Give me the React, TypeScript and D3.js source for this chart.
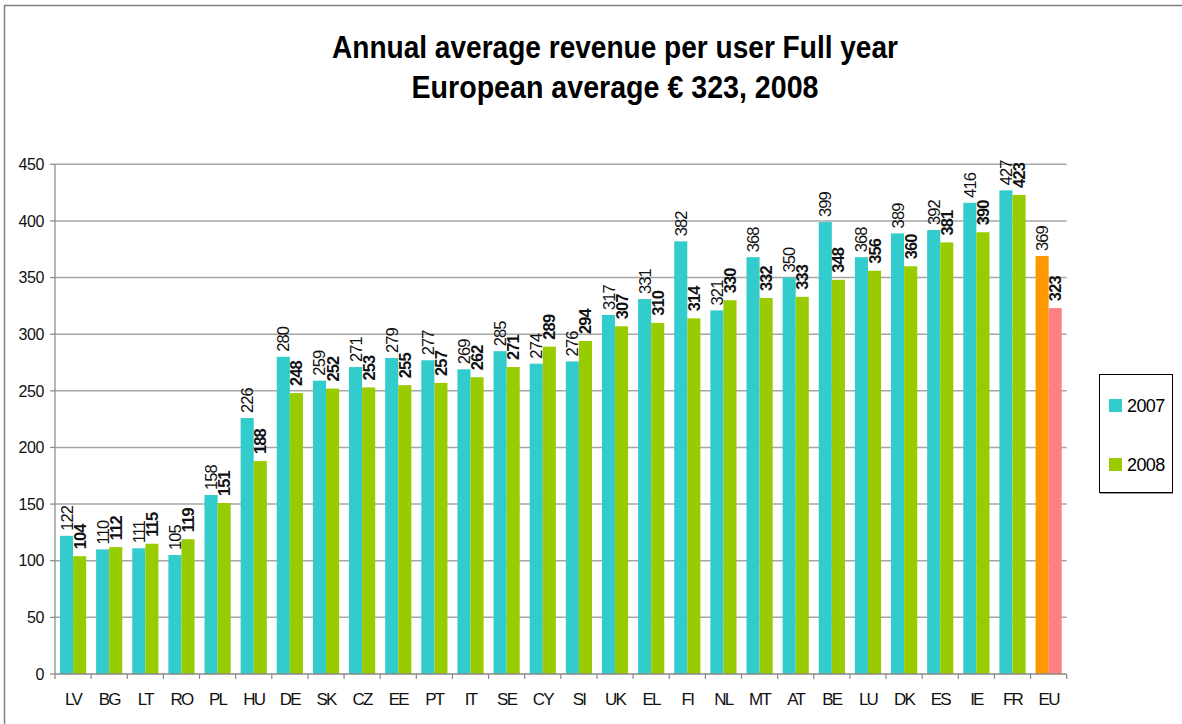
import React from "react";
import * as d3 from "d3";

const categories = ["LV","BG","LT","RO","PL","HU","DE","SK","CZ","EE","PT","IT","SE","CY","SI","UK","EL","FI","NL","MT","AT","BE","LU","DK","ES","IE","FR","EU"];
const values2007 = [122,110,111,105,158,226,280,259,271,279,277,269,285,274,276,317,331,382,321,368,350,399,368,389,392,416,427,369];
const values2008 = [104,112,115,119,151,188,248,252,253,255,257,262,271,289,294,307,310,314,330,332,333,348,356,360,381,390,423,323];
const seriesNames = ["2007", "2008"];
const yTicks = [0,50,100,150,200,250,300,350,400,450];
const titleLines = ["Annual average revenue per user Full year", "European average  \u20ac 323, 2008"];

const W = 1182, H = 724;
const left = 55, right = 1066.7, top = 164.3, bottom = 674;
const C2007 = "#33CCCC", C2008 = "#99CC00", CEU7 = "#FF9900", CEU8 = "#FF8080";
const FONT = "'Liberation Sans', Arial, sans-serif";

export default function App() {
  const x = d3.scaleBand<string>().domain(categories).range([left, right]).padding(0);
  const inner = d3.scaleBand<string>().domain(seriesNames).range([0, x.bandwidth()]).paddingInner(0).paddingOuter(0.38);
  const y = d3.scaleLinear().domain([0, 450]).range([bottom, top]);
  const bw = inner.bandwidth();

  const series = [values2007, values2008];
  return (
    <svg width={W} height={H} style={{ position: "absolute", left: 0, top: 0, background: "#fff" }} fontFamily={FONT}>
      <rect x={4.5} y={5.5} width={1300} height={900} fill="#fff" stroke="#808080" strokeWidth={1.5} />
      {titleLines.map((t, i) => (
        <text key={i} x={615} y={i === 0 ? 57.5 : 98} textAnchor="middle" fontSize={31} fontWeight="bold"
          textLength={i === 0 ? 566 : 407} lengthAdjust="spacingAndGlyphs" fill="#000">{t}</text>
      ))}
      {/* gridlines */}
      {yTicks.map((t) => (
        <g key={t}>
          {t > 0 && <line x1={left} x2={right} y1={y(t)} y2={y(t)} stroke="#a6a6a6" strokeWidth={1.5} />}
          <line x1={left - 5} x2={left} y1={y(t)} y2={y(t)} stroke="#888" strokeWidth={1.2} />
          <text x={left - 11} y={y(t)} dy="0.36em" textAnchor="end" fontSize={16} letterSpacing={-0.4} fill="#111">{t}</text>
        </g>
      ))}
      {/* bars */}
      {categories.map((c, i) => (
        <g key={c}>
          {series.map((vals, s) => {
            const isEU = c === "EU";
            const color = s === 0 ? (isEU ? CEU7 : C2007) : (isEU ? CEU8 : C2008);
            const bx = (x(c) as number) + (inner(seriesNames[s]) as number);
            const by = y(vals[i]);
            return <rect key={s} x={bx} y={by} width={bw} height={bottom - by} fill={color} />;
          })}
        </g>
      ))}
      {/* labels */}
      {categories.map((c, i) => (
        <g key={c + "l"}>
          {series.map((vals, s) => {
            const cx = (x(c) as number) + (inner(seriesNames[s]) as number) + bw / 2;
            const ty = y(vals[i]) - (s === 1 ? 7 : 5);
            return (
              <text key={s} transform={`translate(${cx + 6},${ty}) rotate(-90)`} fontSize={16.5}
                fontWeight={s === 1 ? "bold" : "normal"} letterSpacing={-0.9} fill="#111">{vals[i]}</text>
            );
          })}
        </g>
      ))}
      {/* axes */}
      <line x1={left} x2={left} y1={top} y2={bottom} stroke="#888" strokeWidth={1.2} />
      <line x1={left} x2={right} y1={bottom} y2={bottom} stroke="#888" strokeWidth={1.5} />
      {[...categories.map((c) => x(c) as number), right].map((px, i) => (
        <line key={i} x1={px} x2={px} y1={bottom} y2={bottom + 5} stroke="#888" strokeWidth={1.2} />
      ))}
      {categories.map((c) => (
        <text key={c + "t"} x={(x(c) as number) + x.bandwidth() / 2} y={699} dy="0.36em" textAnchor="middle"
          fontSize={17} letterSpacing={-1.8} fill="#111">{c}</text>
      ))}
      {/* legend */}
      <rect x={1099.5} y={374.5} width={73} height={118} fill="#fff" stroke="#000" strokeWidth={1} />
      <line x1={1100} x2={1173} y1={493.5} y2={493.5} stroke="#999" strokeWidth={1} />
      {seriesNames.map((n, i) => (
        <g key={n}>
          <rect x={1109} y={i === 0 ? 399 : 458} width={13} height={13} fill={i === 0 ? C2007 : C2008} />
          <text x={1127} y={i === 0 ? 411.5 : 470.5} fontSize={18} letterSpacing={-0.6} fill="#000">{n}</text>
        </g>
      ))}
    </svg>
  );
}
